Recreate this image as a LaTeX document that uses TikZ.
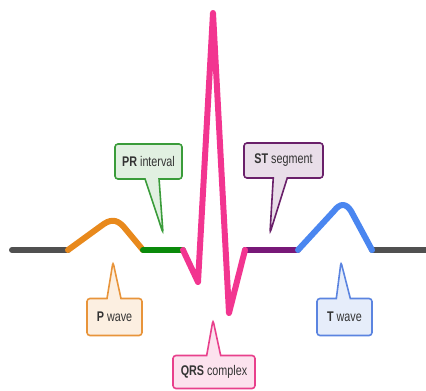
\documentclass[tikz,border=0pt]{standalone}
\usepackage{fontspec}
\setmainfont{Liberation Sans}
\usetikzlibrary{shapes.callouts}

\definecolor{ecggray}{HTML}{505050}
\definecolor{pcol}{HTML}{E8891C}
\definecolor{prcol}{HTML}{0B8A0B}
\definecolor{qrscol}{HTML}{F23590}
\definecolor{stcol}{HTML}{781878}
\definecolor{tcol}{HTML}{4A86F0}
\definecolor{prtag}{HTML}{3A9C3A}
\definecolor{sttag}{HTML}{6A206A}
\definecolor{ptag}{HTML}{E8943A}
\definecolor{ttag}{HTML}{5B84E0}
\definecolor{qrstag}{HTML}{E8408C}

\newcommand{\wlabel}[2]{\scalebox{0.77}[1]{\textbf{#1} #2}}

\begin{document}
\begin{tikzpicture}[x=1pt,y=-1pt,
	wave/.style={line width=6pt,line cap=round,line join=round},
	tag/.style={rectangle callout,draw=#1,fill=#1!15,line width=1.6pt,
		rounded corners=3pt,inner sep=0pt,callout pointer width=14pt,
		text=black!80,font=\fontsize{14}{14}\selectfont}]
	\useasboundingbox (0,0) rectangle (426,391);

	% points of the trace
	\coordinate (start) at (12,250);
	\coordinate (pon) at (68,250);
	\coordinate (poff) at (143,250);
	\coordinate (qon) at (183,250);
	\coordinate (qlow) at (198,282);
	\coordinate (rtop) at (213,13);
	\coordinate (slow) at (229,313);
	\coordinate (soff) at (245,250);
	\coordinate (ton) at (298,250);
	\coordinate (toff) at (372,250);
	\coordinate (stop) at (430,250);

	\draw[wave,ecggray] (start) -- (pon);
	\draw[wave,ecggray] (toff) -- (stop);
	\draw[wave,pcol] (pon) -- (101,226) .. controls (110,219) and (116,219) .. (123,226) -- (poff);
	\draw[wave,prcol] (poff) -- (qon);
	\draw[wave,stcol] (soff) -- (ton);
	\draw[wave,tcol] (ton) -- (334,211) .. controls (340,203) and (346,203) .. (351,211) -- (toff);
	\draw[wave,qrscol] (qon) -- (qlow) -- (rtop) -- (slow) -- (soff);

	% labels
	\node[tag=prtag,minimum width=67pt,minimum height=35pt,
		callout absolute pointer={(163,233)}] (pr) at (148.5,161.5) {\wlabel{PR}{interval}};
	\node[tag=sttag,minimum width=79pt,minimum height=35pt,
		callout absolute pointer={(270,233)}] (st) at (283.5,160.5) {\wlabel{ST}{segment}};
	\node[tag=ptag,minimum width=55pt,minimum height=37pt,
		callout absolute pointer={(113,262)}] (pw) at (114.5,317) {\wlabel{P}{wave}};
	\node[tag=ttag,minimum width=55pt,minimum height=37pt,
		callout absolute pointer={(341,262)}] (tw) at (344.5,317) {\wlabel{T}{wave}};
	\node[tag=qrstag,minimum width=82pt,minimum height=33pt,
		callout absolute pointer={(213,320)}] (qrs) at (214,372) {\wlabel{QRS}{complex}};
\end{tikzpicture}
\end{document}
